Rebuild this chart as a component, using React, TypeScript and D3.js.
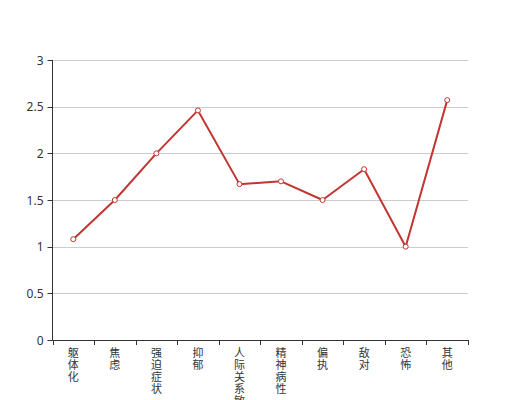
import React from "react";
import * as d3 from "d3";

const categories = ["躯体化", "焦虑", "强迫症状", "抑郁", "人际关系敏感", "精神病性", "偏执", "敌对", "恐怖", "其他"];
const values = [1.08, 1.5, 2.0, 2.46, 1.67, 1.7, 1.5, 1.83, 1.0, 2.57];
const yTicks = [0, 0.5, 1, 1.5, 2, 2.5, 3];

const W = 520, H = 400;
const left = 52.5, right = 468, top = 60, bottom = 340;
const color = "#c23531";
const font = "'Noto Sans', 'Noto Sans CJK SC', sans-serif";

export default function App() {
  const x = d3.scaleBand<string>().domain(categories).range([left, right]);
  const y = d3.scaleLinear().domain([0, 3]).range([bottom, top]);
  const line = d3.line<number>()
    .x((_, i) => (x(categories[i]) as number) + x.bandwidth() / 2)
    .y((d) => y(d));
  const boundaries = categories.map((c) => x(c) as number).concat([right]);
  return (
    <svg width={W} height={H} style={{ position: "absolute", left: 0, top: 0, background: "#fff" }} fontFamily={font}>
      {yTicks.map((t) => (
        <g key={t}>
          {t !== 0 && <line x1={left} x2={right} y1={Math.round(y(t)) + 0.5} y2={Math.round(y(t)) + 0.5} stroke="#ccc" />}
          <line x1={left - 5} x2={left} y1={Math.round(y(t)) + 0.5} y2={Math.round(y(t)) + 0.5} stroke="#333" />
          <text x={left - 9} y={y(t)} textAnchor="end" dominantBaseline="central" fontSize={12} fill="#333">{t}</text>
        </g>
      ))}
      <line x1={left} x2={left} y1={top} y2={bottom + 0.5} stroke="#333" />
      <line x1={left} x2={right} y1={bottom + 0.5} y2={bottom + 0.5} stroke="#333" />
      {boundaries.map((b, i) => (
        <line key={i} x1={Math.round(b) + 0.5} x2={Math.round(b) + 0.5} y1={bottom} y2={bottom + 5} stroke="#333" />
      ))}
      {categories.map((c) => {
        const cx = (x(c) as number) + x.bandwidth() / 2;
        return (
          <text key={c} fontSize={11} fill="#333" textAnchor="middle" fontFamily="'Noto Sans CJK SC', sans-serif">
            {Array.from(c).map((ch, i) => (
              <tspan key={i} x={cx} y={bottom + 17 + i * 12}>{ch}</tspan>
            ))}
          </text>
        );
      })}
      <path d={line(values) || ""} fill="none" stroke={color} strokeWidth={2} strokeLinejoin="bevel" />
      {values.map((v, i) => (
        <circle key={i} cx={(x(categories[i]) as number) + x.bandwidth() / 2} cy={y(v)} r={2.5} fill="#fff" stroke={color} strokeWidth={1} />
      ))}
    </svg>
  );
}
